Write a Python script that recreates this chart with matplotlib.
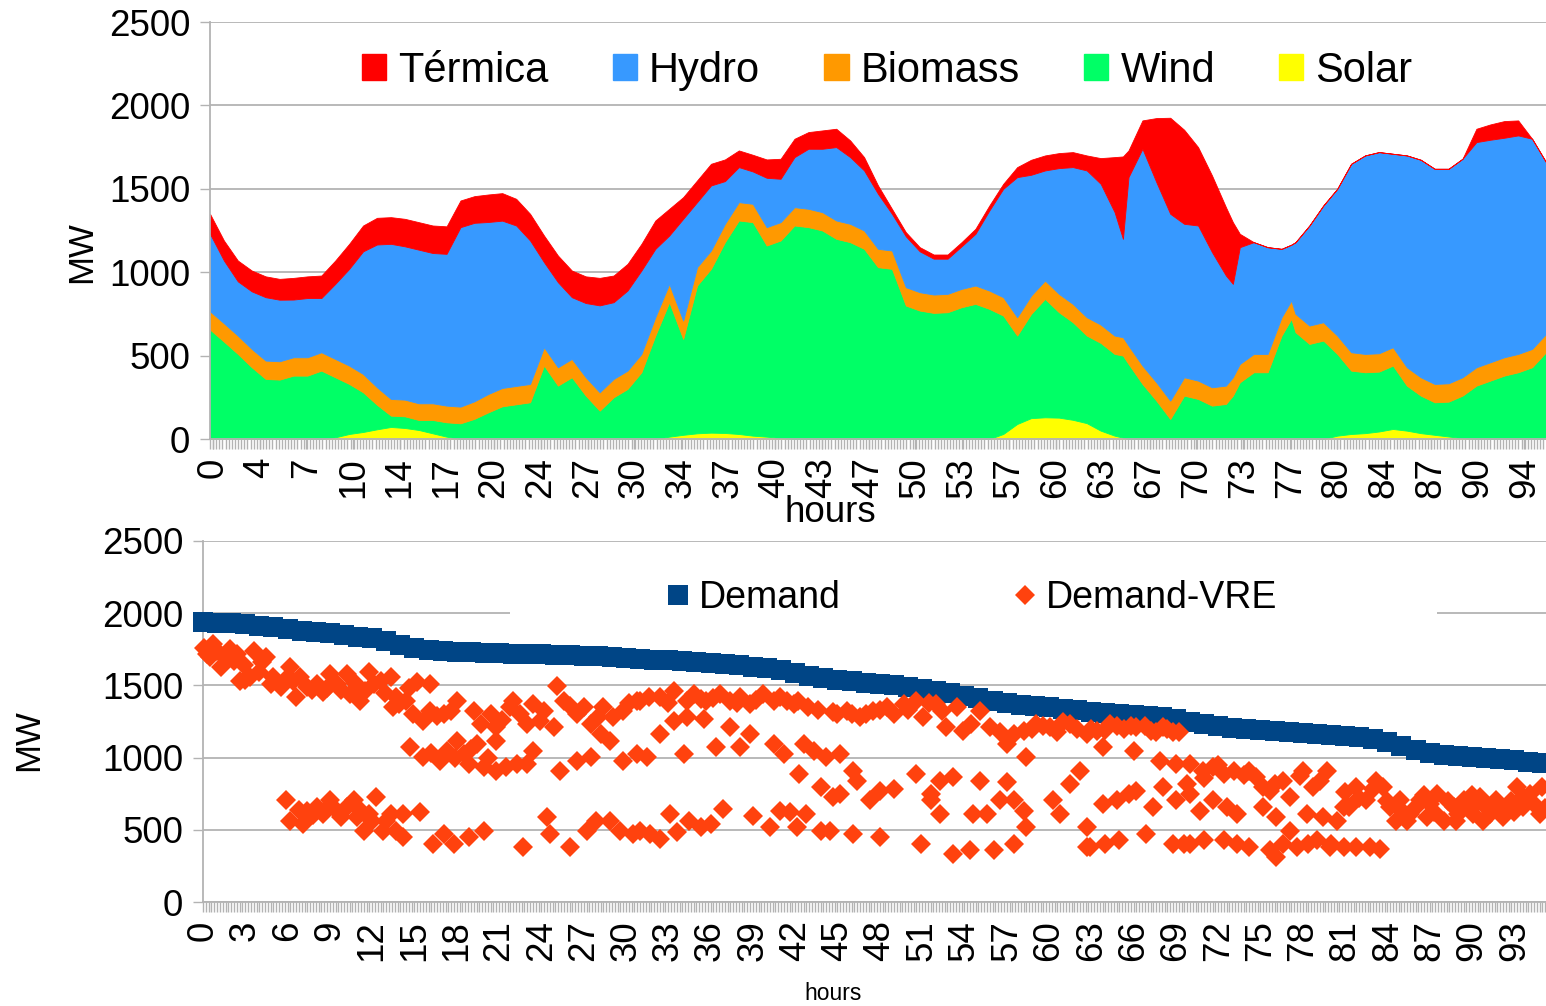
import matplotlib
matplotlib.use('Agg')
import matplotlib.pyplot as plt
from matplotlib.lines import Line2D
from matplotlib.patches import Patch, Rectangle
import numpy as np

plt.rcParams['font.family'] = ['Liberation Sans', 'DejaVu Sans']

# ---- top chart: generation stack (MW) ----
hours = [0, 1, 2, 3, 4, 5, 6, 7, 8, 9, 10, 11, 12, 13, 14, 15,
         16, 17, 18, 19, 20, 21, 22, 23, 24, 25, 26, 27, 28, 29, 30, 31,
         32, 33, 34, 35, 36, 37, 38, 39, 40, 41, 42, 43, 44, 45, 46, 47,
         48, 49, 50, 51, 52, 53, 54, 55, 56, 57, 58, 59, 60, 61, 62, 63,
         64, 65, 65.6, 66, 67, 68, 69, 70, 71, 72, 73, 73.5, 74, 75, 76, 77,
         77.7, 78, 79, 80, 81, 82, 83, 84, 85, 86, 87, 88, 89, 90, 91, 92,
         93, 94, 95, 96]

termica = [120, 120, 125, 125, 125, 125, 130, 130, 135, 140, 150, 155, 160, 160, 165, 165,
           165, 165, 160, 160, 165, 165, 160, 160, 160, 160, 160, 160, 165, 160, 160, 160,
           170, 160, 130, 130, 130, 130, 100, 100, 110, 120, 110, 100, 110, 110, 100, 80,
           50, 30, 25, 25, 25, 25, 25, 30, 30, 30, 60, 90, 90, 90, 90, 90,
           154, 330, 494, 160, 170, 384, 576, 564, 470, 460, 410, 370, 80, 0, 0, 0,
           0, 0, 0, 0, 0, 0, 0, 0, 0, 0, 0, 0, 0, 0, 80, 92,
           100, 90, 0, 0]

hydro = [464, 376, 325, 345, 380, 369, 346, 355, 325, 450, 580, 735, 856, 930, 919, 921,
         901, 910, 1076, 1070, 1031, 1003, 962, 860, 510, 510, 370, 445, 521, 460, 480, 500,
         410, 290, 610, 390, 390, 256, 210, 194, 296, 260, 300, 360, 380, 440, 400, 360,
         330, 220, 305, 245, 215, 211, 255, 310, 480, 650, 840, 724, 660, 754, 820, 880,
         844, 740, 590, 1010, 1300, 1200, 1120, 920, 930, 810, 660, 560, 700, 670, 640, 410,
         335, 430, 600, 700, 880, 1130, 1190, 1206, 1160, 1270, 1304, 1290, 1286, 1310, 1350, 1334,
         1316, 1310, 1260, 1030]

biomass = [110, 110, 110, 110, 110, 110, 110, 110, 110, 110, 110, 110, 105, 100, 100, 100,
           100, 100, 100, 105, 110, 110, 110, 110, 110, 110, 110, 110, 110, 110, 110, 110,
           110, 110, 110, 110, 110, 110, 110, 110, 110, 110, 110, 110, 110, 110, 110, 110,
           110, 110, 110, 110, 110, 110, 110, 110, 110, 110, 110, 110, 110, 110, 110, 110,
           110, 110, 110, 110, 110, 110, 110, 110, 110, 110, 110, 110, 110, 110, 110, 110,
           110, 110, 110, 110, 110, 110, 110, 110, 110, 110, 110, 110, 110, 110, 110, 110,
           110, 110, 110, 110]

wind = [656, 584, 510, 430, 360, 356, 380, 380, 410, 360, 300, 238, 147, 68, 70, 60,
        80, 86, 94, 121, 160, 196, 208, 220, 440, 320, 370, 260, 170, 250, 300, 400,
        620, 806, 575, 886, 982, 1144, 1280, 1280, 1146, 1184, 1280, 1270, 1250, 1200, 1180, 1140,
        1030, 1020, 800, 770, 756, 760, 790, 810, 780, 710, 530, 625, 710, 632, 585, 525,
        526, 490, 492, 450, 330, 230, 120, 260, 240, 200, 210, 260, 340, 400, 400, 620,
        720, 640, 570, 590, 490, 380, 365, 359, 380, 270, 225, 195, 209, 255, 320, 350,
        380, 400, 430, 520]

solar = [0, 0, 0, 0, 0, 0, 0, 0, 0, 10, 30, 42, 58, 72, 66, 54,
         34, 14, 0, 0, 0, 0, 0, 0, 0, 0, 0, 0, 0, 0, 0, 0,
         0, 14, 25, 34, 38, 36, 30, 20, 14, 6, 0, 0, 0, 0, 0, 0,
         0, 0, 0, 0, 0, 0, 0, 0, 0, 30, 90, 125, 130, 128, 115, 95,
         50, 20, 8, 0, 0, 0, 0, 0, 0, 0, 0, 0, 0, 0, 0, 0,
         0, 0, 0, 0, 20, 30, 35, 45, 60, 50, 35, 25, 15, 5, 0, 0,
         0, 0, 0, 0]

top_tick_labels = ['0', '4', '7', '10', '14', '17', '20', '24', '27', '30', '34', '37',
                   '40', '43', '47', '50', '53', '57', '60', '63', '67', '70', '73', '77',
                   '80', '84', '87', '90', '94']

# ---- bottom chart: sorted demand and demand minus VRE (MW) ----
demand = [1940, 1935, 1930, 1922, 1914, 1905, 1890, 1880, 1872, 1862, 1850, 1838, 1826, 1805, 1780, 1758,
          1745, 1738, 1732, 1728, 1724, 1721, 1718, 1716, 1714, 1712, 1709, 1706, 1702, 1698, 1690, 1684,
          1679, 1673, 1666, 1660, 1652, 1645, 1638, 1630, 1620, 1605, 1585, 1568, 1553, 1540, 1530, 1520,
          1510, 1500, 1490, 1478, 1462, 1445, 1428, 1410, 1392, 1375, 1362, 1355, 1348, 1340, 1330, 1318,
          1310, 1302, 1295, 1287, 1278, 1268, 1250, 1233, 1218, 1208, 1198, 1190, 1182, 1176, 1170, 1163,
          1156, 1148, 1140, 1130, 1110, 1080, 1055, 1035, 1020, 1010, 1002, 995, 988, 980, 972, 966]
demand_hours = list(range(len(demand)))

demand_vre = [
    # hours 0-31
    (0.1, 1760), (0.7, 1785), (0.5, 1694), (1.3, 1624), (1.9, 1751), (2.2, 1670), (2.6, 1532),
    (3.3, 1555), (3.6, 1740), (4.0, 1590), (4.5, 1694), (4.8, 1509), (5.5, 1486), (6.2, 1624),
    (6.4, 1532), (6.6, 1417), (7.4, 1486), (8.1, 1509), (8.5, 1452), (9.0, 1578), (9.5, 1509),
    (10.2, 1578), (10.4, 1440), (11.1, 1394), (11.8, 1590), (12.1, 1509), (12.6, 1532), (13.3, 1555),
    (13.5, 1348), (13.7, 1417), (14.4, 1394), (15.2, 1521), (14.9, 1302), (15.6, 1256), (16.1, 1509),
    (16.1, 1325), (17.1, 1302), (18.0, 1394), (19.2, 1325), (19.7, 1233), (20.4, 1302), (20.8, 1210),
    (21.8, 1348), (22.5, 1302), (23.0, 1233), (23.4, 1371), (23.9, 1256), (24.9, 1210), (25.1, 1498),
    (25.6, 1394), (26.5, 1302), (27.0, 1348), (27.5, 1233), (28.4, 1348), (29.1, 1279), (29.8, 1325),
    (30.8, 1394),
    (0.3, 1720), (1.0, 1740), (1.6, 1690), (2.4, 1720), (2.9, 1640), (3.0, 1540), (4.2, 1660),
    (5.0, 1560), (5.8, 1540), (6.9, 1560), (7.7, 1470), (8.8, 1480), (9.8, 1470), (10.8, 1520),
    (11.5, 1460), (12.9, 1450), (13.9, 1370), (14.6, 1480), (16.6, 1290), (17.6, 1320),
    (21.2, 1260), (22.0, 1390), (24.2, 1320), (26.0, 1360), (28.0, 1280), (30.2, 1380),
    (14.7, 1071), (15.6, 1002), (16.8, 979), (17.3, 1048), (18.0, 1117), (18.5, 1025), (18.9, 956),
    (19.4, 1094), (19.9, 933), (20.8, 910), (20.8, 1117), (21.5, 933), (22.3, 956), (23.0, 956),
    (23.4, 1048), (25.3, 910), (26.5, 979), (27.5, 1002), (28.2, 1163), (28.9, 1117), (29.8, 979),
    (30.8, 1025), (16.2, 1030), (17.9, 1000), (19.0, 1060), (20.2, 1000),
    (5.9, 703), (6.2, 564), (7.1, 541), (7.4, 633), (8.1, 657), (8.5, 610), (9.0, 703), (9.5, 633),
    (10.2, 657), (10.7, 703), (10.9, 587), (11.4, 495), (11.8, 610), (12.3, 726), (12.8, 495),
    (13.3, 610), (13.7, 495), (14.2, 610), (15.4, 622), (14.2, 449), (16.3, 403), (17.1, 472),
    (17.8, 403), (18.9, 449), (19.9, 495), (22.7, 380), (24.4, 587), (24.6, 472), (26.0, 380),
    (27.2, 495), (27.9, 564), (28.9, 564), (29.6, 495), (30.5, 472),
    (6.8, 640), (7.8, 600), (8.8, 650), (9.8, 590), (11.0, 650), (12.0, 560), (13.0, 560),
    # hours 31-63
    (31.0, 1394), (32.4, 1417), (33.4, 1463), (34.3, 1394), (35.3, 1406), (35.7, 1394), (36.7, 1440),
    (37.4, 1394), (38.1, 1417), (38.8, 1371), (39.7, 1440), (40.5, 1394), (41.4, 1394), (41.9, 1371),
    (42.9, 1348), (44.7, 1313), (45.7, 1325), (46.6, 1279), (47.5, 1325), (48.5, 1348), (49.0, 1302),
    (49.7, 1371), (50.6, 1394), (51.1, 1279), (52.0, 1371), (52.7, 1210), (53.5, 1348), (53.9, 1187),
    (55.1, 1325), (55.8, 1210), (57.0, 1094), (58.2, 1187), (59.1, 1233), (60.1, 1210), (61.5, 1233),
    (62.7, 1164), (58.4, 1002),
    (31.6, 1420), (33.0, 1380), (34.8, 1440), (36.2, 1410), (37.9, 1380), (39.2, 1400), (40.9, 1420),
    (42.2, 1390), (43.6, 1330), (45.0, 1300), (46.0, 1300), (47.0, 1300), (48.0, 1330), (50.0, 1330),
    (51.5, 1380), (52.4, 1320), (54.5, 1230), (56.5, 1180), (57.5, 1160), (58.8, 1200), (59.6, 1220),
    (60.6, 1180), (61.0, 1250), (62.0, 1200),
    (33.4, 1256), (34.3, 1279), (35.5, 1267), (32.4, 1164), (34.1, 1025), (31.5, 1002), (36.4, 1071),
    (37.4, 1210), (38.1, 1071), (38.8, 1164), (40.5, 1094), (41.2, 1025), (42.3, 887), (42.6, 1094),
    (43.3, 1048), (44.2, 1002), (45.2, 1025), (46.1, 910), (46.4, 841), (45.2, 749), (43.8, 795),
    (44.7, 726),
    (48.0, 772), (49.0, 784), (50.6, 887), (51.6, 749), (52.3, 841), (53.2, 864), (55.1, 841),
    (57.0, 830), (57.5, 703), (58.2, 633), (60.3, 703), (60.8, 610), (61.5, 818), (62.2, 910),
    (62.7, 518), (62.7, 380),
    (31.0, 495), (31.7, 472), (32.4, 438), (33.1, 610), (33.6, 484), (34.5, 564), (35.3, 518),
    (36.0, 541), (36.9, 645), (39.0, 599), (40.2, 518), (40.9, 633), (41.6, 622), (42.1, 518),
    (42.8, 610), (43.8, 495), (44.5, 495), (46.1, 472), (47.3, 703), (48.0, 449), (50.9, 403),
    (51.6, 703), (52.3, 610), (53.2, 334), (54.4, 357), (54.6, 610), (55.6, 610), (56.1, 357),
    (56.5, 703), (57.5, 403), (58.4, 518),
    # hours 63-95
    (63.4, 1187), (64.3, 1233), (65.3, 1198), (66.2, 1210), (67.2, 1187), (68.1, 1210), (68.8, 1175),
    (63.8, 1071), (66.0, 1048), (63.0, 1200), (64.0, 1190), (64.8, 1220), (65.8, 1220), (66.8, 1220),
    (67.6, 1180), (68.4, 1200), (69.2, 1180),
    (67.9, 979), (69.0, 956), (70.0, 956), (69.8, 818), (70.9, 910), (71.6, 933), (72.4, 887),
    (73.1, 910), (74.2, 910), (74.7, 864), (75.2, 795), (75.7, 772), (76.6, 841), (77.1, 726),
    (78.0, 910), (78.7, 795), (79.7, 910), (80.9, 657), (81.8, 795), (82.5, 703), (83.2, 841),
    (71.0, 860), (72.0, 950), (73.8, 880), (76.0, 820), (77.8, 870), (79.2, 840), (81.0, 760),
    (82.0, 720), (83.0, 780),
    (63.8, 680), (64.8, 703), (65.7, 749), (66.2, 772), (67.4, 657), (68.1, 795), (69.0, 703),
    (70.0, 749), (70.7, 633), (71.6, 703), (72.6, 657), (73.3, 610), (75.2, 657), (76.1, 587),
    (77.1, 495), (78.3, 610), (79.4, 587), (80.4, 564), (81.3, 657),
    (62.9, 380), (65.0, 426), (66.9, 472), (68.8, 403), (70.0, 403), (72.4, 426), (73.3, 403),
    (74.2, 380), (75.7, 357), (76.6, 403), (77.6, 380), (79.0, 426), (79.9, 380), (80.9, 380),
    (81.8, 380), (82.8, 380), (83.5, 368), (76.1, 311),
    (64.0, 400), (69.6, 400), (71.0, 430), (78.4, 400), (80.0, 400),
    (83.7, 795), (84.2, 657), (84.9, 703), (85.6, 610), (86.3, 703), (86.8, 587), (87.5, 749),
    (88.0, 564), (88.7, 657), (89.4, 703), (90.1, 610), (90.6, 726), (91.3, 610), (91.7, 703),
    (92.5, 657), (93.2, 795), (93.6, 657), (94.1, 749), (94.8, 610), (95.0, 795), (92.2, 587),
    (90.8, 564), (88.9, 564), (85.4, 564), (84.6, 564), (87.0, 680), (93.6, 726),
    (85.0, 640), (86.0, 660), (87.3, 620), (88.3, 700), (89.0, 610), (89.8, 660), (90.4, 690),
    (91.0, 660), (92.0, 640), (92.8, 700), (94.4, 680), (95.2, 650), (84.0, 700), (86.6, 740),
    (90.0, 740), (93.0, 620),
]

grey = '#b3b3b3'
colors = {'Térmica': '#ff0000', 'Hydro': '#3799ff', 'Biomass': '#ff9900',
          'Wind': '#00ff66', 'Solar': '#ffff00'}

fig = plt.figure(figsize=(15.46, 10.06), dpi=100)
ax1 = fig.add_axes([210 / 1546, 1 - 439 / 1006, 1336 / 1546, 417 / 1006])
ax2 = fig.add_axes([203 / 1546, 1 - 902 / 1006, 1343 / 1546, 361 / 1006])


def style_axis(ax):
    ax.set_ylim(0, 2500)
    ax.set_yticks(range(0, 2501, 500))
    ax.grid(axis='y', color=grey, lw=1.3)
    ax.set_axisbelow(True)
    for s in ['top', 'right']:
        ax.spines[s].set_visible(False)
    for s in ['left', 'bottom']:
        ax.spines[s].set_color(grey)
        ax.spines[s].set_linewidth(1.3)
    ax.tick_params(axis='both', which='both', color=grey, length=7.2, width=1.0,
                   labelsize=26.5, direction='out')
    ax.tick_params(axis='y', pad=7)
    ax.tick_params(axis='x', pad=6)


# top: stacked areas
polys = ax1.stackplot(hours, solar, wind, biomass, hydro, termica,
                      colors=[colors['Solar'], colors['Wind'], colors['Biomass'],
                              colors['Hydro'], colors['Térmica']])
for p in polys:
    p.set_edgecolor(p.get_facecolor())
    p.set_linewidth(0.6)
ax1.set_xlim(0, 96)
style_axis(ax1)
step = 3.366
ax1.set_xticks([0.2 + step * i for i in range(len(top_tick_labels))], labels=top_tick_labels,
               rotation=90)
ax1.set_xticks(np.arange(0, 96, step / 15), minor=True)
ax1.set_ylabel('MW', fontsize=25)
ax1.yaxis.set_label_coords(-0.084, 0.448)

handles = [Patch(color=colors[k]) for k in ['Térmica', 'Hydro', 'Biomass', 'Wind', 'Solar']]
ax1.legend(handles, ['Térmica', 'Hydro', 'Biomass', 'Wind', 'Solar'], ncol=5, loc='center',
           bbox_to_anchor=(0.507, 0.883), frameon=False, fontsize=30, handlelength=0.58,
           handleheight=0.58, handletextpad=0.29, columnspacing=1.54, borderpad=0)

# bottom: duration curve
ax2.plot(demand_hours, demand, 's', ms=14, color='#004586', mew=0, clip_on=False, zorder=3)
dv_h, dv_mw = zip(*demand_vre)
ax2.plot(dv_h, dv_mw, 'D', ms=10, color='#ff420e', mew=0, clip_on=False, zorder=4)
ax2.set_xlim(0, 95.25)
style_axis(ax2)
ax2.set_xticks(range(0, 94, 3), labels=[str(v) for v in range(0, 94, 3)], rotation=90)
ax2.set_xticks(np.arange(0, 95.25, 0.2), minor=True)
ax2.set_ylabel('MW', fontsize=25)
ax2.yaxis.set_label_coords(-0.1176, 0.449)

# legend area hides the gridline behind it
ax2.add_patch(Rectangle((0.2286, 0.767), 0.690, 0.14, transform=ax2.transAxes,
                        facecolor='white', edgecolor='none', zorder=1))
leg_handles = [Line2D([], [], marker='s', ls='none', ms=14, color='#004586', mew=0),
               Line2D([], [], marker='D', ls='none', ms=10, color='#ff420e', mew=0)]
ax2.legend(leg_handles, ['Demand', 'Demand-VRE'], ncol=2, loc='center',
           bbox_to_anchor=(0.5726, 0.842), frameon=False, fontsize=27, handlelength=0.6,
           handletextpad=0.27, columnspacing=4.6, borderpad=0)

fig.text(830 / 1546, 1 - 512 / 1006, 'hours', ha='center', va='center', fontsize=26.5)
fig.text(833 / 1546, 1 - 994 / 1006, 'hours', ha='center', va='center', fontsize=16.5)

fig.savefig('out.png', dpi=100)
